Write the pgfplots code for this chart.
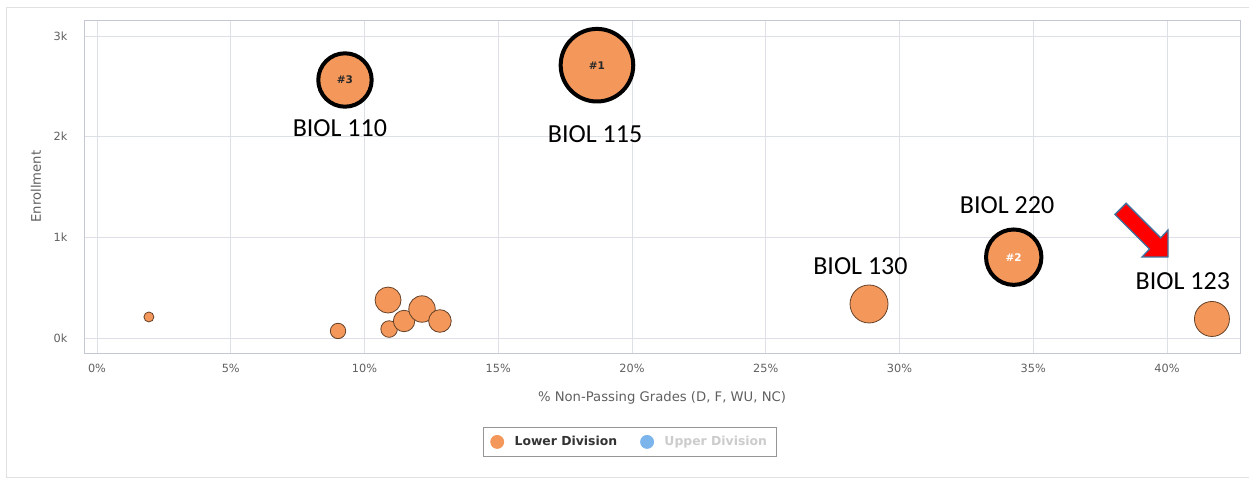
\documentclass[border=0pt]{standalone}
\usepackage{fontspec}
\setmainfont{DejaVu Sans}
\newfontfamily\calib{Carlito}
\usepackage{pgfplots}
\pgfplotsset{compat=1.18}
\definecolor{bubfill}{RGB}{244,151,90}
\definecolor{bubedge}{RGB}{100,65,40}
\definecolor{gridc}{RGB}{222,224,232}
\definecolor{boxc}{RGB}{196,200,210}
\definecolor{txtc}{RGB}{96,96,96}
\definecolor{legblue}{RGB}{124,181,236}
\definecolor{arrowedge}{RGB}{65,113,156}
\definecolor{framec}{RGB}{225,225,225}
\definecolor{darktxt}{RGB}{40,40,40}
\definecolor{legframe}{RGB}{150,150,150}
\begin{document}
\begin{tikzpicture}[x=1pt,y=1pt]
\path[use as bounding box] (0,0) rectangle (1249,479);
\draw[framec, line width=1pt] (1249,471) -- (6.5,471) -- (6.5,2) -- (1249,2);
\begin{axis}[
  at={(84pt,126pt)}, anchor=south west,
  scale only axis, width=1156pt, height=333pt,
  xmin=-0.486, xmax=42.73, ymin=-149, ymax=3159,
  xtick={0,5,10,15,20,25,30,35,40},
  xticklabels={0\%,5\%,10\%,15\%,20\%,25\%,30\%,35\%,40\%},
  ytick={0,1000,2000,3000},
  yticklabels={0k,1k,2k,3k},
  /pgf/number format/assume math mode=true,
  grid=major, major grid style={gridc, line width=0.8pt},
  axis line style={boxc, line width=0.9pt},
  tick style={draw=none},
  tick label style={font=\fontsize{11.3}{13}\selectfont, text=txtc},
  xticklabel style={yshift=-8pt},
  yticklabel style={xshift=-13pt},
  xlabel={\% Non-Passing Grades (D, F, WU, NC)},
  ylabel={Enrollment},
  every axis x label/.style={at={(axis description cs:0.5,0)}, anchor=center, yshift=-45pt, font=\fontsize{13.2}{15}\selectfont, text=txtc},
  every axis y label/.style={at={(axis description cs:0,0.5)}, anchor=center, xshift=-48pt, rotate=90, font=\fontsize{13.2}{15}\selectfont, text=txtc},
  clip=false,
  legend columns=2,
  legend style={at={(0.472,-0.267)}, anchor=center, draw=legframe, line width=0.8pt,
    inner xsep=7pt, inner ysep=7pt,
    font=\fontsize{12.4}{14}\selectfont\bfseries,
    /tikz/every even column/.append style={column sep=21pt},
    /tikz/every odd column/.append style={column sep=8.5pt},
    nodes={inner sep=2pt}},
]
% regular bubbles
\addplot[scatter, only marks, mark=*, forget plot,
  scatter/use mapped color={draw=bubedge, fill=bubfill},
  mark options={line width=0.8pt},
  visualization depends on={\thisrow{r} \as \rad},
  scatter/@pre marker code/.append style={/tikz/mark size=\rad pt}]
 table {
x y r
1.94 209 5
9.01 70 7.7
10.88 377 13
10.92 89 8.3
11.48 169 10.7
12.15 288 13.2
12.82 169 11.3
28.86 338 19
41.68 189 17.5
};
% ranked bubbles
\addplot[scatter, only marks, mark=*, forget plot,
  scatter/use mapped color={draw=black, fill=bubfill},
  mark options={line width=4pt},
  visualization depends on={\thisrow{r} \as \rad},
  scatter/@pre marker code/.append style={/tikz/mark size=\rad pt}]
 table {
x y r
9.27 2563 26.7
18.69 2710 36.3
34.27 803 27.7
};
\coordinate (r3) at (axis cs:9.27,2563);
\coordinate (r1) at (axis cs:18.69,2710);
\coordinate (r2) at (axis cs:34.27,803);
\coordinate (tip) at (axis cs:40.04,805);
% annotations
\node[font=\calib\fontsize{26}{30}\selectfont, anchor=base, inner sep=0pt] at (axis cs:9.08,2000) {BIOL 110};
\node[font=\calib\fontsize{26}{30}\selectfont, anchor=base, inner sep=0pt] at (axis cs:18.62,1940) {BIOL 115};
\node[font=\calib\fontsize{26}{30}\selectfont, anchor=base, inner sep=0pt] at (axis cs:34.02,1232) {BIOL 220};
\node[font=\calib\fontsize{26}{30}\selectfont, anchor=base, inner sep=0pt] at (axis cs:28.54,626) {BIOL 130};
\node[font=\calib\fontsize{26}{30}\selectfont, anchor=base, inner sep=0pt] at (axis cs:40.59,484) {BIOL 123};
% legend
\addlegendimage{legend image code/.code={\fill[bubfill] (6.5pt,0) circle (6.5pt);}}
\addlegendentry{\textcolor{black!80}{Lower Division}}
\addlegendimage{legend image code/.code={\fill[legblue] (6.5pt,0) circle (6.5pt);}}
\addlegendentry{\textcolor{black!20}{Upper Division}}
\end{axis}
\node[font=\fontsize{10.5}{12}\selectfont\bfseries, text=darktxt] at (r3) {\#3};
\node[font=\fontsize{10.5}{12}\selectfont\bfseries, text=darktxt] at (r1) {\#1};
\node[font=\fontsize{10.5}{12}\selectfont\bfseries, text=white] at (r2) {\#2};
\draw[fill=red, draw=arrowedge, line width=1.3pt, line join=miter]
  (tip) -- ++(0pt,27pt) -- ++(-7.4pt,-7.9pt) -- ++(-34.6pt,34.6pt) -- ++(-11.2pt,-11.2pt)
  -- ++(34.6pt,-34.6pt) -- ++(-7.4pt,-7.9pt) -- cycle;
\end{tikzpicture}
\end{document}
